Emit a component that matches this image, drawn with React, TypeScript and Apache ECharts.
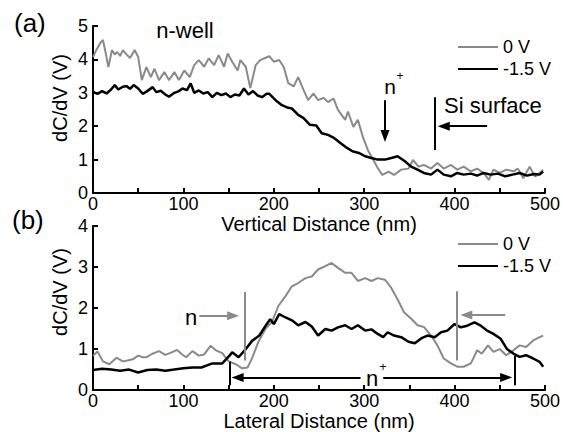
import React, { useEffect, useRef } from "react";
import * as echarts from "echarts";

// Panel (a): vertical profile
const xA0 = [0,4,8,11,14,17,21,24,27,30,33,37,41,46,50,54,59,64,68,73,79,84,90,95,101,107,112,117,123,128,134,139,145,149,154,160,163,169,174,180,185,191,195,200,206,211,216,222,227,233,238,244,249,255,260,266,271,279,282,288,293,299,304,308,315,320,327,333,341,349,354,360,366,374,381,388,396,403,410,418,425,432,438,443,450,457,465,470,476,483,489,494,498];
const yA0 = [4.07,4.3,4.49,4.58,4.2,3.77,4.28,4.15,4.22,4.1,4.28,4.15,4.04,4.28,4.07,3.38,3.77,3.47,3.72,3.38,3.62,3.38,3.62,3.38,3.67,3.47,3.83,3.98,3.78,4.03,3.83,4.13,3.78,4.18,3.93,3.67,3.98,3.78,3.14,3.83,3.98,4.05,4.1,3.93,3.98,3.77,3.29,3.19,3.47,3.08,2.78,2.98,2.78,2.85,2.72,2.83,2.49,2.19,2.44,1.98,2.19,1.64,1.29,1.09,0.75,0.54,0.64,0.54,0.7,0.73,0.99,0.79,0.84,0.73,0.9,0.73,0.84,0.7,0.79,0.65,0.73,0.6,0.39,0.7,0.6,0.7,0.65,0.73,0.44,0.79,0.49,0.6,0.7];
const xA15 = [0,5,10,15,20,24,28,33,37,41,45,50,55,60,66,70,75,80,84,90,95,99,104,108,112,117,122,127,132,137,142,147,152,157,162,167,172,177,182,187,192,195,202,209,216,220,227,233,240,247,253,260,267,274,281,287,294,301,308,315,323,330,337,345,352,359,366,374,381,388,396,403,410,418,425,432,440,448,456,464,472,480,488,494,498];
const yA15 = [3.03,2.97,3.05,2.98,3.1,3.23,3.1,3.18,3.2,3.12,3.23,3.13,2.97,3.05,3.17,3.02,3.06,2.95,2.88,3.0,3.05,3.13,3.08,3.28,3.0,3.07,2.98,3.02,2.87,3.0,2.93,2.98,2.87,2.95,2.92,3.13,2.95,3.05,2.92,2.87,2.97,2.97,2.78,2.63,2.55,2.53,2.34,2.24,2.04,2.02,1.79,1.74,1.64,1.49,1.35,1.25,1.2,1.1,1.05,1.0,1.0,1.05,1.1,0.95,0.79,0.7,0.6,0.55,0.7,0.55,0.5,0.6,0.55,0.58,0.52,0.6,0.55,0.58,0.5,0.55,0.6,0.52,0.57,0.55,0.64];

// Panel (b): lateral profile
const xB0 = [0,5,11,18,26,33,38,44,50,55,59,65,73,80,87,93,98,103,110,117,123,130,136,143,150,158,165,171,176,183,191,198,205,213,220,227,235,242,249,257,264,271,279,286,293,301,308,315,323,330,337,344,352,359,366,374,381,388,396,403,410,418,425,430,437,443,450,457,465,472,479,487,494,498];
const yB0 = [0.84,0.94,0.7,0.63,0.79,0.7,0.72,0.75,0.84,0.8,0.8,0.88,0.95,0.86,0.92,0.98,0.88,0.8,0.95,0.84,0.87,1.08,0.97,0.9,0.7,0.63,0.53,0.55,0.78,1.18,1.5,1.66,2.05,2.29,2.53,2.61,2.73,2.77,2.94,3.02,3.1,2.98,2.86,2.86,2.66,2.73,2.66,2.73,2.69,2.49,2.21,1.9,1.74,1.58,1.54,1.33,1.09,0.77,0.65,0.57,0.57,0.65,0.97,0.89,1.09,0.93,1.0,0.85,0.97,1.09,1.05,1.21,1.29,1.33];
const xB15 = [0,10,20,30,40,50,60,70,80,90,100,110,120,132,143,151,154,161,169,176,184,191,196,200,206,213,220,227,235,242,249,257,264,271,279,286,293,301,308,315,321,326,333,341,349,356,363,370,378,385,392,400,407,414,422,429,436,443,451,458,465,472,479,487,494,498];
const yB15 = [0.49,0.52,0.5,0.47,0.5,0.43,0.49,0.5,0.47,0.5,0.53,0.55,0.55,0.65,0.65,0.84,0.92,0.8,1.0,1.2,1.33,1.57,1.73,1.61,1.85,1.77,1.7,1.58,1.66,1.55,1.33,1.49,1.45,1.53,1.58,1.49,1.58,1.45,1.48,1.37,1.29,1.41,1.33,1.29,1.18,1.14,1.26,1.33,1.29,1.41,1.45,1.61,1.53,1.57,1.65,1.57,1.45,1.37,1.25,1.0,0.89,0.81,0.85,0.77,0.69,0.57];

const xTicks = [0, 100, 200, 300, 400, 500];
const seriesNames = ["0 V", "-1.5 V"];

const GRAY = "#8a8a8a";
const BLACK = "#000000";
const FONT = "Liberation Sans";

const zip = (xs: number[], ys: number[]) => xs.map((x, i) => [x, ys[i]]);

type Seg = { from: number[]; to: number[]; color: string; arrow: boolean };
// annotation segments in data coordinates
const annotA: Seg[] = [
  { from: [323, 2.78], to: [323, 1.71], color: BLACK, arrow: true },
  { from: [378, 2.87], to: [378, 1.29], color: BLACK, arrow: false },
  { from: [436, 2.0], to: [388, 2.0], color: BLACK, arrow: true },
];
const annotB: Seg[] = [
  { from: [117.6, 1.81], to: [155, 1.81], color: GRAY, arrow: true },
  { from: [168, 2.39], to: [168, 0.72], color: GRAY, arrow: false },
  { from: [151, 0.7], to: [151, 0.12], color: BLACK, arrow: false },
  { from: [296, 0.31], to: [160, 0.31], color: BLACK, arrow: true },
  { from: [321, 0.31], to: [457, 0.31], color: BLACK, arrow: true },
  { from: [467, 0.84], to: [467, 0.12], color: BLACK, arrow: false },
  { from: [402, 2.41], to: [402, 0.72], color: GRAY, arrow: false },
  { from: [456, 1.83], to: [413, 1.83], color: GRAY, arrow: true },
];

const markLineOf = (segs: Seg[]) => ({
  silent: true,
  animation: false,
  label: { show: false },
  emphasis: { disabled: true },
  data: segs.map((s) => [
    { coord: s.from, symbol: "none", lineStyle: { color: s.color, width: 2, type: "solid" } },
    { coord: s.to, symbol: s.arrow ? "triangle" : "none", symbolSize: [9, 12], itemStyle: { color: s.color } },
  ]),
});

function xAxisOf(grid: number, name: string, gap: number) {
  return {
    gridIndex: grid,
    type: "value",
    min: 0,
    max: 500,
    interval: 100,
    axisLine: { show: true, lineStyle: { color: BLACK, width: 2 } },
    axisTick: { show: true, inside: true, length: 5, lineStyle: { color: BLACK, width: 2 } },
    minorTick: { show: true, splitNumber: 2, length: 5, lineStyle: { color: BLACK, width: 2 } },
    splitLine: { show: false },
    axisLabel: {
      color: BLACK, fontSize: 18, fontFamily: FONT, margin: 2,
      formatter: (v: number) => (xTicks.includes(v) ? String(v) : ""),
    },
    name,
    nameLocation: "middle",
    nameGap: gap,
    nameTextStyle: { color: BLACK, fontSize: 20, fontFamily: FONT },
  };
}
function yAxisOf(grid: number, max: number) {
  return {
    gridIndex: grid,
    type: "value",
    min: 0,
    max,
    interval: 1,
    axisLine: { show: true, lineStyle: { color: BLACK, width: 2 } },
    axisTick: { show: true, inside: true, length: 5, lineStyle: { color: BLACK, width: 2 } },
    splitLine: { show: false },
    axisLabel: { color: BLACK, fontSize: 18, fontFamily: FONT, margin: 5 },
  };
}

const txt = (text: string, x: number, y: number, size: number, align = "left", rotation = 0) => ({
  type: "text",
  x,
  y,
  rotation,
  silent: true,
  style: { text, fill: BLACK, font: `${size}px "${FONT}"`, align, verticalAlign: "middle" },
});

export default function App() {
  const ref = useRef<HTMLDivElement>(null);
  useEffect(() => {
    if (!ref.current) return;
    const chart = echarts.init(ref.current, undefined, { renderer: "svg" });
    const legendBase = {
      orient: "vertical",
      left: 453,
      itemWidth: 40,
      itemHeight: 2,
      icon: "rect",
      itemGap: 4,
      selectedMode: false,
      data: seriesNames,
      textStyle: { color: BLACK, fontSize: 18, fontFamily: FONT },
    };
    chart.setOption({
      animation: false,
      backgroundColor: "#ffffff",
      grid: [
        { left: 93, top: 26, width: 455, height: 167 },
        { left: 93, top: 226, width: 455, height: 166 },
      ],
      legend: [
        { ...legendBase, top: 33 },
        { ...legendBase, top: 230 },
      ],
      xAxis: [xAxisOf(0, "Vertical Distance (nm)", 19), xAxisOf(1, "Lateral Distance (nm)", 16)],
      yAxis: [yAxisOf(0, 5), yAxisOf(1, 4)],
      series: [
        { name: seriesNames[0], type: "line", xAxisIndex: 0, yAxisIndex: 0, data: zip(xA0, yA0), symbol: "none", lineStyle: { color: GRAY, width: 2 }, itemStyle: { color: GRAY } },
        { name: seriesNames[1], type: "line", xAxisIndex: 0, yAxisIndex: 0, data: zip(xA15, yA15), symbol: "none", lineStyle: { color: BLACK, width: 2.5 }, itemStyle: { color: BLACK }, markLine: markLineOf(annotA) },
        { name: seriesNames[0], type: "line", xAxisIndex: 1, yAxisIndex: 1, data: zip(xB0, yB0), symbol: "none", lineStyle: { color: GRAY, width: 2 }, itemStyle: { color: GRAY } },
        { name: seriesNames[1], type: "line", xAxisIndex: 1, yAxisIndex: 1, data: zip(xB15, yB15), symbol: "none", lineStyle: { color: BLACK, width: 2.5 }, itemStyle: { color: BLACK }, markLine: markLineOf(annotB) },
      ],
      graphic: [
        txt("(a)", 14, 23, 26),
        txt("(b)", 12, 220, 26),
        txt("n-well", 185, 30, 22, "center"),
        txt("n", 390, 86, 21, "center"),
        txt("+", 400, 76, 12, "center"),
        txt("Si surface", 444, 105, 22),
        txt("n", 191, 317, 22, "center"),
        txt("n", 372, 378, 22, "center"),
        txt("+", 383, 367, 12, "center"),
        txt("dC/dV (V)", 60, 98, 20, "center", Math.PI / 2),
        txt("dC/dV (V)", 60, 292, 20, "center", Math.PI / 2),
      ],
    });
    return () => chart.dispose();
  }, []);
  return <div ref={ref} style={{ position: "fixed", left: 0, top: 0, width: 563, height: 432 }} />;
}
